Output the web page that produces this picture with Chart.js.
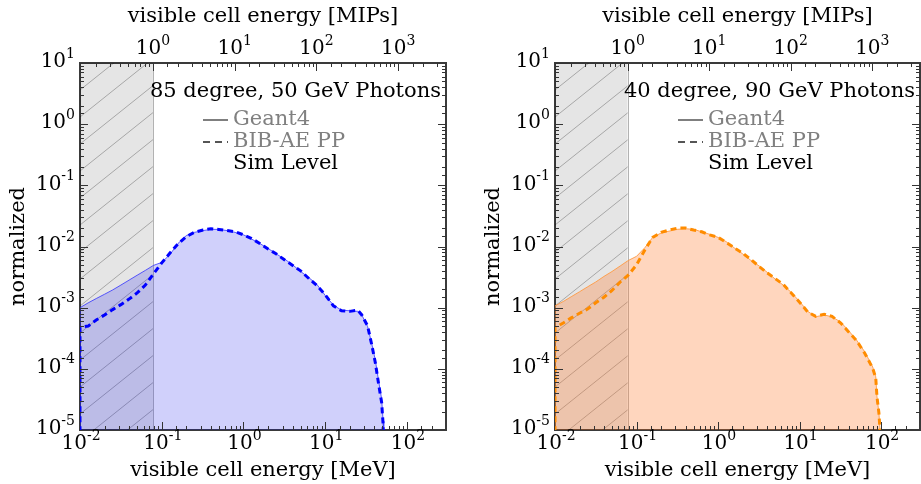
<!DOCTYPE html>
<html>
<head>
<meta charset="utf-8">
<script src="https://cdn.jsdelivr.net/npm/chart.js@4/dist/chart.umd.min.js"></script>
<style>
  body { margin: 0; background: #fff; }
  .panel { position: absolute; top: 0; }
</style>
</head>
<body>
<div class="panel" style="left:0"><canvas id="chartLeft" width="460" height="484"></canvas></div>
<div class="panel" style="left:475px"><canvas id="chartRight" width="446" height="484"></canvas></div>
<script>
// visible cell energy in MeV (first point repeated = left edge of the histogram)
const energyLeft = [0.01, 0.01, 0.0126, 0.0158, 0.02, 0.0251, 0.0316, 0.0398, 0.05, 0.063, 0.079,
  0.1, 0.126, 0.158, 0.2, 0.25, 0.32, 0.4, 0.5, 0.63, 0.79, 1.0, 1.26, 1.58, 2.0, 2.5, 3.2, 4.0, 5.0,
  6.3, 7.9, 10, 12.6, 15.8, 20, 25, 28, 33, 37, 41, 45, 49, 51, 52];
const geant4Left = [1e-7, 1.0e-3, 1.2e-3, 1.41e-3, 1.66e-3, 1.95e-3, 2.34e-3, 2.82e-3, 3.39e-3, 4.07e-3, 4.9e-3,
  5.5e-3, 7.4e-3, 1.12e-2, 1.51e-2, 1.70e-2, 1.82e-2, 1.91e-2, 1.90e-2, 1.82e-2, 1.70e-2, 1.55e-2, 1.32e-2, 1.12e-2, 9.3e-3, 7.6e-3, 6.2e-3, 5.0e-3, 3.9e-3,
  3.1e-3, 2.4e-3, 1.58e-3, 1.10e-3, 9.1e-4, 8.9e-4, 8.7e-4, 7.6e-4, 4.9e-4, 2.6e-4, 1.38e-4, 6.3e-5, 3.2e-5, 1.4e-5, 1e-7];
const bibaeLeft = [1e-7, 4.8e-4, 5.0e-4, 6.3e-4, 7.6e-4, 9.3e-4, 1.12e-3, 1.38e-3, 1.74e-3, 2.34e-3, 3.55e-3,
  5.4e-3, 7.8e-3, 1.10e-2, 1.45e-2, 1.70e-2, 1.86e-2, 1.95e-2, 1.90e-2, 1.82e-2, 1.74e-2, 1.55e-2, 1.35e-2, 1.12e-2, 9.1e-3, 7.6e-3, 6.0e-3, 4.9e-3, 4.0e-3,
  3.0e-3, 2.3e-3, 1.62e-3, 1.07e-3, 8.9e-4, 8.7e-4, 9.1e-4, 7.6e-4, 5.0e-4, 2.5e-4, 1.26e-4, 5.6e-5, 2.8e-5, 1.26e-5, 1e-7];

const energyRight = [0.01, 0.01, 0.0126, 0.0158, 0.02, 0.0251, 0.0316, 0.0398, 0.05, 0.063, 0.079,
  0.1, 0.126, 0.158, 0.2, 0.25, 0.32, 0.4, 0.5, 0.63, 0.79, 1.0, 1.26, 1.58, 2.0, 2.5, 3.2, 4.0, 5.0,
  6.3, 7.9, 10, 12.6, 15.8, 20, 25, 32, 40, 50, 63, 79, 86, 89, 94, 97, 98];
const geant4Right = [1e-7, 1.07e-3, 1.26e-3, 1.51e-3, 1.82e-3, 2.19e-3, 2.63e-3, 3.24e-3, 3.9e-3, 4.8e-3, 5.9e-3,
  6.9e-3, 9.5e-3, 1.41e-2, 1.66e-2, 1.78e-2, 1.91e-2, 1.95e-2, 1.91e-2, 1.74e-2, 1.58e-2, 1.41e-2, 1.20e-2, 9.5e-3, 7.6e-3, 6.0e-3, 4.8e-3, 3.8e-3, 2.95e-3,
  2.34e-3, 1.78e-3, 1.26e-3, 8.7e-4, 7.1e-4, 7.6e-4, 7.1e-4, 5.8e-4, 4.2e-4, 2.95e-4, 1.9e-4, 1.07e-4, 7.4e-5, 3.5e-5, 1.9e-5, 1.0e-5, 1e-7];
const bibaeRight = [1e-7, 4.7e-4, 5.6e-4, 6.8e-4, 8.1e-4, 9.5e-4, 1.20e-3, 1.48e-3, 1.91e-3, 2.63e-3, 3.4e-3,
  5.0e-3, 8.7e-3, 1.41e-2, 1.70e-2, 1.86e-2, 2.0e-2, 2.0e-2, 1.86e-2, 1.74e-2, 1.55e-2, 1.41e-2, 1.17e-2, 9.5e-3, 7.8e-3, 6.2e-3, 4.7e-3, 3.7e-3, 3.0e-3,
  2.4e-3, 1.74e-3, 1.23e-3, 8.5e-4, 7.2e-4, 7.8e-4, 7.2e-4, 5.6e-4, 4.0e-4, 2.9e-4, 1.8e-4, 1.02e-4, 7.1e-5, 3.5e-5, 1.9e-5, 1.0e-5, 1e-7];

const legendLabels = ['Geant4', 'BIB-AE PP', 'Sim Level'];
const mipInMeV = 0.078;          // 1 MIP, edge of the shaded region
const energyRange = [0.01, 300];
const normRange = [1e-5, 10];

const FONT = '"DejaVu Serif", "Liberation Serif", serif';

function isPow10(v) {
  const e = Math.log10(v);
  return Math.abs(e - Math.round(e)) < 1e-6;
}

// "10" with a raised exponent, centred on (x, y) or right aligned at x
function drawPow(ctx, v, x, y, align) {
  const exp = String(Math.round(Math.log10(v)));
  ctx.font = '20px ' + FONT;
  const w1 = ctx.measureText('10').width;
  ctx.font = '14px ' + FONT;
  const w2 = ctx.measureText(exp).width;
  const total = w1 + w2;
  const left = align === 'right' ? x - total : x - total / 2;
  ctx.textAlign = 'left';
  ctx.textBaseline = 'middle';
  ctx.font = '20px ' + FONT;
  ctx.fillText('10', left, y);
  ctx.font = '14px ' + FONT;
  ctx.fillText(exp, left + w1, y - 8);
}

// shaded "below 1 MIP" band with hatching
const belowMip = {
  id: 'belowMip',
  beforeDatasetsDraw(chart) {
    const {ctx, chartArea: a, scales} = chart;
    const x0 = scales.x.getPixelForValue(energyRange[0]);
    const x1 = scales.x.getPixelForValue(mipInMeV);
    ctx.save();
    ctx.beginPath();
    ctx.rect(x0, a.top, x1 - x0, a.bottom - a.top);
    ctx.clip();
    ctx.fillStyle = 'rgba(0,0,0,0.1)';
    ctx.fillRect(x0, a.top, x1 - x0, a.bottom - a.top);
    ctx.strokeStyle = 'rgba(0,0,0,0.28)';
    ctx.lineWidth = 1;
    for (let y = a.top - 150; y < a.bottom + 150; y += 27) {
      ctx.beginPath();
      ctx.moveTo(x0, y + 15);
      ctx.lineTo(x1 + 10, y + 15 - 0.8 * (x1 + 10 - x0));
      ctx.stroke();
    }
    ctx.restore();
    ctx.save();
    ctx.strokeStyle = 'rgba(0,0,0,0.3)';
    ctx.beginPath();
    ctx.moveTo(Math.round(x1) + 0.5, a.top);
    ctx.lineTo(Math.round(x1) + 0.5, a.bottom);
    ctx.stroke();
    ctx.restore();
  }
};

// matplotlib style inward ticks and power-of-ten labels
const axisMarks = {
  id: 'axisMarks',
  afterDatasetsDraw(chart) {
    const {ctx, chartArea: a, scales} = chart;
    ctx.save();
    ctx.strokeStyle = '#333';
    ctx.lineWidth = 1;
    const line = (x1, y1, x2, y2) => { ctx.beginPath(); ctx.moveTo(x1, y1); ctx.lineTo(x2, y2); ctx.stroke(); };
    const len = v => isPow10(v) ? 8 : 4;
    ['x', 'x2'].forEach(id => {
      const s = scales[id];
      s.ticks.forEach(t => {
        const p = Math.round(s.getPixelForValue(t.value)) + 0.5;
        if (p <= a.left + 1 || p >= a.right - 1) return;
        if (id === 'x') line(p, a.bottom, p, a.bottom - len(t.value));
        else line(p, a.top, p, a.top + len(t.value));
      });
    });
    scales.y.ticks.forEach(t => {
      const p = Math.round(scales.y.getPixelForValue(t.value)) + 0.5;
      if (p <= a.top + 1 || p >= a.bottom - 1) return;
      line(a.left, p, a.left + len(t.value), p);
      line(a.right, p, a.right - len(t.value), p);
    });
    ctx.restore();
  },
  afterDraw(chart) {
    const {ctx, chartArea: a, scales} = chart;
    ctx.save();
    ctx.fillStyle = '#000';
    scales.x.ticks.forEach(t => {
      if (isPow10(t.value)) drawPow(ctx, t.value, scales.x.getPixelForValue(t.value) + 1, a.bottom + 14, 'center');
    });
    scales.x2.ticks.forEach(t => {
      if (isPow10(t.value)) drawPow(ctx, t.value, scales.x2.getPixelForValue(t.value), a.top - 14, 'center');
    });
    scales.y.ticks.forEach(t => {
      if (isPow10(t.value)) drawPow(ctx, t.value, a.left - 5, scales.y.getPixelForValue(t.value) - 1, 'right');
    });
    ctx.restore();
  }
};

function panelText(title) {
  return {
    id: 'panelText',
    afterDraw(chart) {
      const {ctx, chartArea: a} = chart;
      ctx.save();
      ctx.font = '21px ' + FONT;
      ctx.textBaseline = 'middle';
      ctx.textAlign = 'right';
      ctx.fillStyle = '#000';
      ctx.fillText(title, a.right - 5, a.top + 29);
      ctx.textAlign = 'left';
      const rows = [a.top + 57, a.top + 79, a.top + 101];
      ctx.strokeStyle = '#555';
      ctx.lineWidth = 1.5;
      ctx.beginPath();
      ctx.moveTo(a.left + 123, rows[0]);
      ctx.lineTo(a.left + 148, rows[0]);
      ctx.stroke();
      ctx.lineWidth = 2;
      ctx.setLineDash([7, 5]);
      ctx.beginPath();
      ctx.moveTo(a.left + 123, rows[1]);
      ctx.lineTo(a.left + 148, rows[1]);
      ctx.stroke();
      ctx.setLineDash([]);
      ctx.fillStyle = '#808080';
      ctx.fillText(legendLabels[0], a.left + 153, rows[0]);
      ctx.fillText(legendLabels[1], a.left + 153, rows[1]);
      ctx.fillStyle = '#000';
      ctx.fillText(legendLabels[2], a.left + 153, rows[2]);
      ctx.restore();
    }
  };
}

function makeChart(id, energy, geant4, bibae, colors, title, padRight) {
  const titleFont = { family: FONT, size: 21 };
  const border = { display: true, color: '#3a3a3a', width: 2 };
  return new Chart(document.getElementById(id), {
    type: 'line',
    data: {
      datasets: [
        {
          label: legendLabels[1],
          data: energy.map((e, i) => ({ x: e, y: bibae[i] })),
          borderColor: colors.dash,
          borderWidth: 3,
          borderDash: [6, 4],
          fill: false,
          pointRadius: 0,
          tension: 0,
          order: 0
        },
        {
          label: legendLabels[0],
          data: energy.map((e, i) => ({ x: e, y: geant4[i] })),
          borderColor: colors.line,
          borderWidth: 1,
          backgroundColor: colors.fill,
          fill: 'start',
          pointRadius: 0,
          tension: 0,
          order: 1
        }
      ]
    },
    options: {
      responsive: false,
      animation: false,
      devicePixelRatio: 1,
      layout: { padding: { left: 0, right: padRight, top: 0, bottom: 0 } },
      plugins: { legend: { display: false }, tooltip: { enabled: false } },
      scales: {
        x: {
          type: 'logarithmic', position: 'bottom',
          min: energyRange[0], max: energyRange[1],
          grid: { display: false, drawTicks: false },
          border: border,
          ticks: { display: false },
          title: { display: true, text: 'visible cell energy [MeV]', font: titleFont, color: '#000', padding: { top: 2, bottom: 1 } },
          afterFit(s) { s.height = 54; }
        },
        x2: {
          type: 'logarithmic', position: 'top',
          min: energyRange[0] / mipInMeV, max: energyRange[1] / mipInMeV,
          grid: { display: false, drawTicks: false },
          border: border,
          ticks: { display: false },
          title: { display: true, text: 'visible cell energy [MIPs]', font: titleFont, color: '#000', padding: { top: 4, bottom: 2 } },
          afterFit(s) { s.height = 63; }
        },
        y: {
          type: 'logarithmic', position: 'left',
          min: normRange[0], max: normRange[1],
          grid: { display: false, drawTicks: false },
          border: border,
          ticks: { display: false },
          title: { display: true, text: 'normalized', font: titleFont, color: '#000', padding: { top: 6, bottom: 2 } },
          afterFit(s) { s.width = 80; }
        },
        y2: {
          type: 'logarithmic', position: 'right',
          min: normRange[0], max: normRange[1],
          grid: { display: false, drawTicks: false },
          border: border,
          ticks: { display: false },
          afterFit(s) { s.width = 0; }
        }
      }
    },
    plugins: [belowMip, axisMarks, panelText(title)]
  });
}

makeChart('chartLeft', energyLeft, geant4Left, bibaeLeft,
  { fill: 'rgba(20,20,235,0.2)', line: 'rgba(40,40,255,0.75)', dash: '#0000ff' },
  '85 degree, 50 GeV Photons', 14);
makeChart('chartRight', energyRight, geant4Right, bibaeRight,
  { fill: 'rgba(255,120,40,0.3)', line: 'rgba(255,150,60,0.85)', dash: '#ff8c00' },
  '40 degree, 90 GeV Photons', 1);
</script>
</body>
</html>
